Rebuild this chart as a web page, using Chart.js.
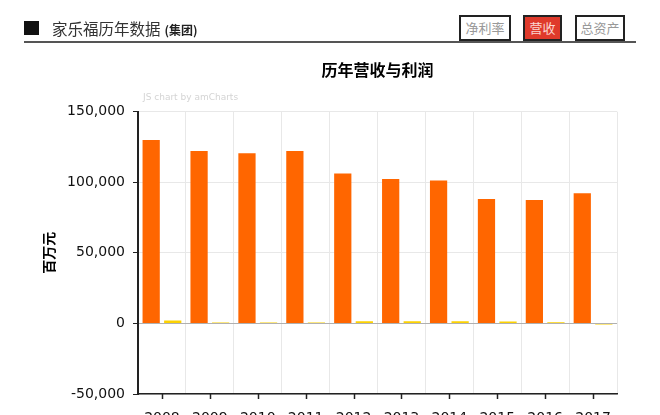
<!DOCTYPE html>
<html>
<head>
<meta charset="utf-8">
<script src="https://cdn.jsdelivr.net/npm/chart.js@4/dist/chart.umd.min.js"></script>
<style>
  html, body { margin: 0; padding: 0; width: 660px; height: 415px; overflow: hidden; background: #fff; }
  #wrap { position: relative; width: 660px; height: 415px; }
  #c { position: absolute; left: 0; top: 0; }
  .sq { position: absolute; left: 24px; top: 21px; width: 15px; height: 14px; background: #111; }
  .ttl { position: absolute; left: 52px; top: 17px; font: 15.5px "Noto Sans CJK SC", sans-serif; color: #333; line-height: 22px; white-space: nowrap; }
  .ttl b { font-size: 12px; color: #222; margin-left: 4px; }
  .hline { position: absolute; left: 24px; top: 41px; width: 612px; height: 2px; background: #555; }
  .btn { position: absolute; top: 15px; height: 22px; border: 2px solid #222; background: #fff; color: #999; font: 13px "Noto Sans CJK SC", sans-serif; line-height: 22px; text-align: center; box-sizing: content-box; }
  .btn.on { background: #df3a2b; color: #fbd6d0; }
  .wm { position: absolute; left: 143px; top: 92px; font: 9px "DejaVu Sans", sans-serif; color: #d4d4d4; white-space: nowrap; }
  .ctitle { position: absolute; left: 277.5px; width: 200px; top: 58px; text-align: center; font: bold 16px "Noto Sans CJK SC", sans-serif; color: #000; line-height: 22px; }
</style>
</head>
<body>
<div id="wrap">
  <canvas id="c" width="660" height="450"></canvas>
  <div class="sq"></div>
  <div class="ttl">家乐福历年数据<b>(集团)</b></div>
  <div class="hline"></div>
  <div class="btn" style="left:459px;width:48px;">净利率</div>
  <div class="btn on" style="left:523px;width:35px;">营收</div>
  <div class="btn" style="left:575px;width:46px;">总资产</div>
  <div class="ctitle" id="ctitle"></div>
  <div class="wm">JS chart by amCharts</div>
</div>
<script>
const years = ['2008','2009','2010','2011','2012','2013','2014','2015','2016','2017'];
const revenue = [129900, 122100, 120500, 122100, 106300, 102300, 101300, 88100, 87400, 92300];
const netProfit = [2000, 600, 700, 600, 1500, 1600, 1500, 1400, 800, -700];
const seriesNames = ['营收', '净利润'];
const chartTitle = '历年营收与利润';
const yTitle = '百万元';

document.getElementById('ctitle').textContent = chartTitle;

const xTickMarks = {
  id: 'xTickMarks',
  afterDraw(chart) {
    const x = chart.scales.x;
    const ctx = chart.ctx;
    ctx.save();
    ctx.strokeStyle = '#222';
    ctx.lineWidth = 1.5;
    for (let i = 0; i < years.length; i++) {
      const px = Math.round(x.getPixelForValue(i)) + 0.5;
      ctx.beginPath();
      ctx.moveTo(px, x.top);
      ctx.lineTo(px, x.top + 5);
      ctx.stroke();
    }
    ctx.restore();
  }
};

new Chart(document.getElementById('c'), {
  type: 'bar',
  data: {
    labels: years,
    datasets: [
      { label: seriesNames[0], data: revenue, backgroundColor: '#FF6600', categoryPercentage: 0.9, barPercentage: 0.8 },
      { label: seriesNames[1], data: netProfit, backgroundColor: '#FCD202', categoryPercentage: 0.9, barPercentage: 0.8 }
    ]
  },
  options: {
    responsive: false,
    devicePixelRatio: 1,
    animation: false,
    layout: { padding: { left: 0, right: 43, top: 111.7, bottom: 26 } },
    plugins: {
      legend: { display: false },
      tooltip: { enabled: false },
      title: { display: false }
    },
    scales: {
      x: {
        afterFit(s) { s.height = 30; },
        grid: { offset: true, drawTicks: false, color: '#e8e8e8', lineWidth: 1 },
        border: { color: '#222', width: 1.5 },
        ticks: { color: '#111', padding: 16, font: { family: '"DejaVu Sans", sans-serif', size: 14 } }
      },
      y: {
        min: -50000,
        max: 150000,
        afterFit(s) { s.width = 138; },
        ticks: {
          stepSize: 50000,
          color: '#111',
          padding: 8,
          font: { family: '"DejaVu Sans", sans-serif', size: 14 },
          callback: v => v.toLocaleString('en-US')
        },
        grid: {
          color: ctx => (ctx.tick && ctx.tick.value === 0) ? '#b0b0b0' : '#e8e8e8',
          tickColor: '#222',
          tickLength: 5,
          lineWidth: 1
        },
        border: { color: '#222', width: 2 },
        title: {
          display: true,
          text: yTitle,
          color: '#000',
          font: { family: '"Noto Sans CJK SC", sans-serif', size: 14, weight: 'bold' },
          padding: { top: 40.6, bottom: 0 }
        }
      }
    }
  },
  plugins: [xTickMarks]
});
</script>
</body>
</html>
